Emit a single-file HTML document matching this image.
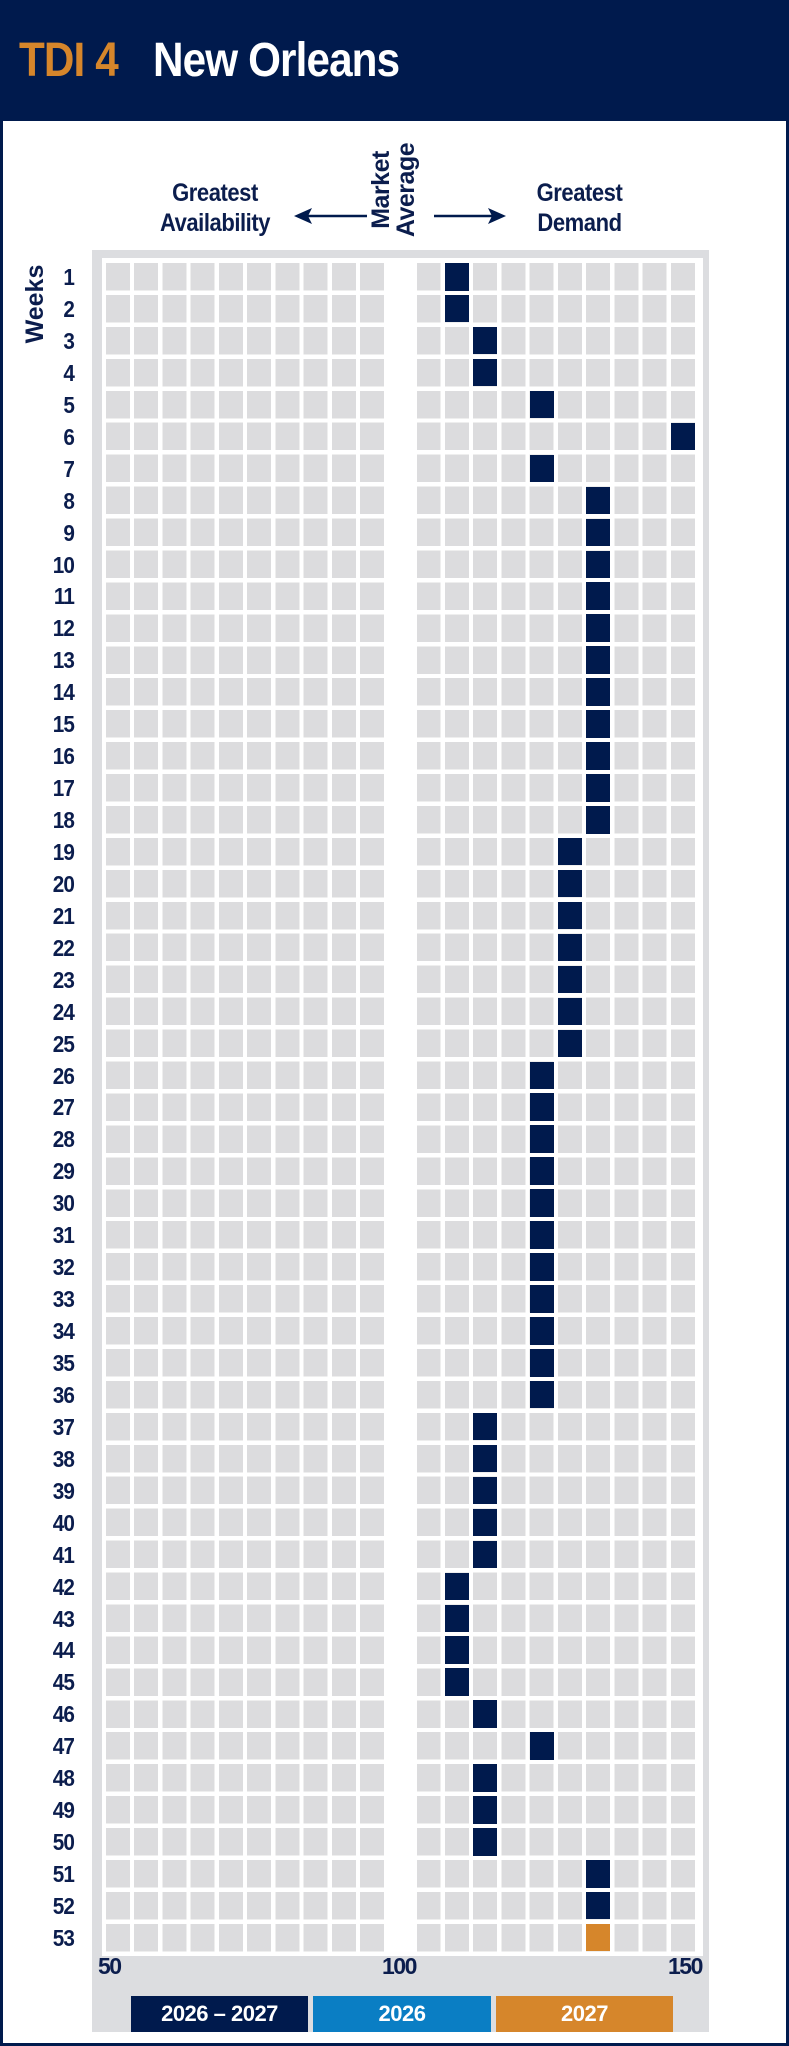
<!DOCTYPE html>
<html><head><meta charset="utf-8"><style>
*{margin:0;padding:0;box-sizing:border-box}
body{width:789px;height:2046px;position:relative;background:#fff;font-family:"Liberation Sans",sans-serif;overflow:hidden;color:#0b1d4d}
.frame{position:absolute;left:0;top:0;width:789px;height:2046px;border:3px solid #001a4d}
.hdr{position:absolute;left:0;top:0;width:789px;height:121px;background:#001a4d}
.t{position:absolute;top:34px;font-size:48px;font-weight:bold;line-height:54px;letter-spacing:-1px;transform:scaleX(0.88);transform-origin:left}
.lbl{position:absolute;font-size:25px;font-weight:bold;line-height:30px;text-align:center;letter-spacing:-0.5px;transform:scaleX(0.88)}
.panel{position:absolute;left:92px;top:250px;width:617px;height:1782px;background:#dcdde0}
.inner{position:absolute;left:102px;top:258px;width:601px;height:1698px;background:#fff}
.cells{position:absolute;left:106px;top:263px;width:593px;height:1689px;background:#dcdcde}
.vs{position:absolute;left:106px;top:263px;width:593px;height:1689px;background:repeating-linear-gradient(90deg,transparent 0 24px,#fff 24px 28.24px)}
.hs{position:absolute;left:106px;top:263px;width:593px;height:1689px;background:repeating-linear-gradient(180deg,transparent 0 27.5px,#fff 27.5px 31.94px)}
.gap{position:absolute;left:384px;top:263px;width:33px;height:1689px;background:#fff}
.d{position:absolute;width:24px;height:27.5px;background:#001a4d}
.wk{position:absolute;left:14px;width:60px;text-align:right;font-size:23px;font-weight:bold;line-height:28px;letter-spacing:-1px;transform:scaleX(0.9);transform-origin:right}
.ax{position:absolute;top:1953px;font-size:23px;font-weight:bold;letter-spacing:-1.5px}
.lg{position:absolute;top:1996px;height:36px;color:#fff;font-size:22px;font-weight:bold;text-align:center;line-height:36px;letter-spacing:-0.5px}
</style></head><body>
<div class="hdr"></div>
<div class="frame"></div>
<div class="t" style="left:19px;color:#d6862b">TDI 4</div>
<div class="t" style="left:153px;color:#fff">New Orleans</div>
<div class="lbl" style="left:130px;top:178px;width:170px">Greatest<br>Availability</div>
<div class="lbl" style="left:507px;top:178px;width:145px">Greatest<br>Demand</div>
<div class="lbl" style="left:340px;top:164px;width:110px;height:52px;transform:rotate(-90deg);transform-origin:center;line-height:25px;font-size:25px">Market<br>Average</div>
<svg style="position:absolute;left:290px;top:205px" width="220" height="24">
<line x1="10" y1="11" x2="77" y2="11" stroke="#001a4d" stroke-width="2.5"/>
<polygon points="4,11 22,3 18,11 22,19" fill="#001a4d"/>
<line x1="144" y1="11" x2="210" y2="11" stroke="#001a4d" stroke-width="2.5"/>
<polygon points="216,11 198,3 202,11 198,19" fill="#001a4d"/>
</svg>
<div style="position:absolute;left:-8px;top:291px;width:86px;height:26px;transform:rotate(-90deg);font-size:25px;font-weight:bold;text-align:center;line-height:26px">Weeks</div>
<div class="panel"></div><div class="inner"></div>
<div class="cells"></div><div class="vs"></div><div class="hs"></div><div class="gap"></div>
<div id="dk"></div>
<div id="wl"></div>
<div class="ax" style="left:98px">50</div>
<div class="ax" style="left:382px">100</div>
<div class="ax" style="left:668px">150</div>
<div class="lg" style="left:131px;width:177px;background:#001a4d">2026 – 2027</div>
<div class="lg" style="left:313px;width:178px;background:#0a7ec4">2026</div>
<div class="lg" style="left:496px;width:177px;background:#d6862b">2027</div>
<script>
var v=[110,110,115,115,125,150,125,135,135,135,135,135,135,135,135,135,135,135,130,130,130,130,130,130,130,125,125,125,125,125,125,125,125,125,125,125,115,115,115,115,115,110,110,110,110,115,125,115,115,115,135,135,135];
var h='',w='';
for(var i=0;i<53;i++){var idx=(v[i]-50)/5;var x=106+idx*28.24;var y=263+i*31.94;
h+='<div class="d" style="left:'+x.toFixed(1)+'px;top:'+y.toFixed(1)+'px'+(i==52?';background:#d6862b':'')+'"></div>';
w+='<div class="wk" style="top:'+(y).toFixed(1)+'px">'+(i+1)+'</div>';}
document.getElementById('dk').outerHTML=h;document.getElementById('wl').outerHTML=w;
</script>
</body></html>
